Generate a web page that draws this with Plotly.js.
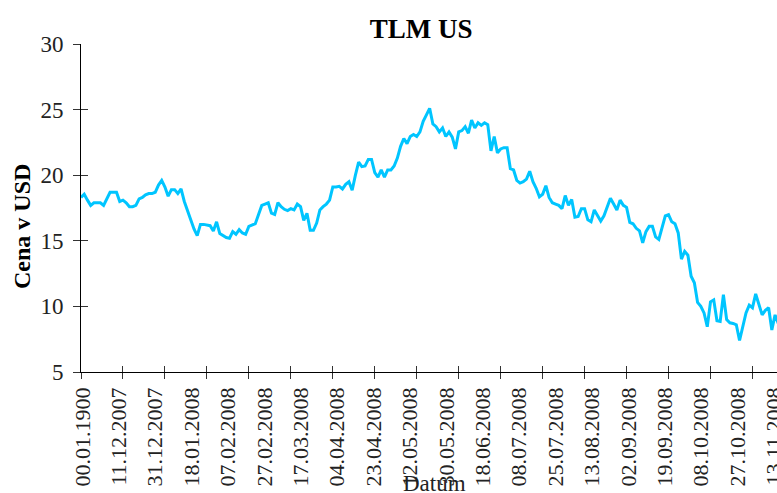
<!DOCTYPE html>
<html>
<head>
<meta charset="utf-8">
<script src="https://cdn.plot.ly/plotly-3.0.1.min.js"></script>
<style>
  html, body { margin: 0; padding: 0; background: #fff; }
  #chart { width: 777px; height: 493px; }
</style>
</head>
<body>
<div id="chart"></div>
<script>
// closing prices of TLM US, one value per trading day
var price = [
    18.3, 18.55, 18.1, 17.7, 17.9, 17.9, 17.9, 17.7, 18.2, 18.7,
    18.7, 18.7, 18.0, 18.1, 17.9, 17.6, 17.6, 17.7, 18.2, 18.3,
    18.5, 18.6, 18.6, 18.7, 19.25, 19.6, 19.1, 18.4, 18.9, 18.9,
    18.6, 18.95, 18.0, 17.3, 16.6, 15.9, 15.4, 16.25, 16.25, 16.2,
    16.15, 15.75, 16.45, 15.55, 15.4, 15.25, 15.2, 15.7, 15.5, 15.85,
    15.6, 15.5, 16.1, 16.2, 16.3, 17.0, 17.7, 17.8, 17.9, 17.1,
    17.0, 17.9, 17.6, 17.4, 17.3, 17.45, 17.35, 17.8, 17.6, 16.55,
    17.1, 15.8, 15.8, 16.35, 17.35, 17.6, 17.8, 18.1, 19.1, 19.1,
    19.15, 18.95, 19.3, 19.5, 18.85, 20.0, 21.0, 20.65, 20.7, 21.2,
    21.2, 20.2, 19.85, 20.4, 19.85, 20.4, 20.4, 20.7, 21.3, 22.2,
    22.8, 22.4, 22.95, 23.1, 22.95, 23.3, 24.1, 24.6, 25.1, 23.9,
    23.7, 23.3, 23.6, 22.95, 23.3, 22.9, 22.0, 23.3, 23.4, 23.7,
    23.2, 24.2, 23.6, 24.0, 23.8, 24.0, 23.85, 21.85, 22.95, 21.7,
    22.0, 22.1, 22.1, 20.5, 20.4, 19.6, 19.4, 19.5, 19.7, 20.3,
    19.5, 19.0, 18.35, 18.55, 19.2, 18.3, 17.9, 17.8, 17.7, 17.45,
    18.45, 17.7, 18.15, 16.8, 16.85, 17.45, 17.45, 16.6, 16.45, 17.35,
    16.9, 16.5, 16.9, 17.6, 18.25, 17.8, 17.35, 18.1, 17.7, 17.55,
    16.4, 16.3, 15.95, 15.75, 14.85, 15.7, 16.1, 16.1, 15.3, 15.1,
    16.0, 16.9, 17.0, 16.45, 16.3, 15.6, 13.6, 14.2, 13.9, 12.3,
    11.8, 10.3, 10.0, 9.5, 8.45, 10.35, 10.5, 8.9, 8.85, 10.9,
    9.0, 8.75, 8.7, 8.6, 7.4, 8.5, 9.5, 10.1, 9.9, 10.95,
    10.2, 9.35, 9.7, 9.9, 8.2, 9.35, 8.7
];

// date labels under the axis
var dateLabels = [
    '00.01.1900', '11.12.2007', '31.12.2007', '18.01.2008', '07.02.2008',
    '27.02.2008', '17.03.2008', '04.04.2008', '23.04.2008', '12.05.2008',
    '30.05.2008', '18.06.2008', '08.07.2008', '25.07.2008', '13.08.2008',
    '02.09.2008', '19.09.2008', '08.10.2008', '27.10.2008', '13.11.2008'
];

var yTicks = [5, 10, 15, 20, 25, 30];

var day = price.map(function (v, i) { return i; });
var tickStep = 13;
var dayTicks = day.filter(function (i) { return i % tickStep === 0; });
var labelPos = dateLabels.map(function (d, i) { return i; });

var serif = 'Liberation Serif, Times New Roman, serif';

var trace = {
    x: day,
    y: price,
    type: 'scatter',
    mode: 'lines',
    line: { color: '#00C5FF', width: 3 },
    hoverinfo: 'x+y'
};

// empty traces so the overlay axes (cross ticks, date labels) get drawn
var holders = [
    { x: [], y: [], xaxis: 'x2', yaxis: 'y', type: 'scatter', mode: 'lines', hoverinfo: 'skip' },
    { x: [], y: [], xaxis: 'x3', yaxis: 'y', type: 'scatter', mode: 'lines', hoverinfo: 'skip' },
    { x: [], y: [], xaxis: 'x', yaxis: 'y2', type: 'scatter', mode: 'lines', hoverinfo: 'skip' }
];

var xRange = [0, 215.6];
var yRange = [5, 30];

var layout = {
    width: 777,
    height: 493,
    margin: { l: 81, r: 0, t: 44, b: 121 },
    paper_bgcolor: '#fff',
    plot_bgcolor: '#fff',
    showlegend: false,
    title: {
        text: 'TLM US',
        font: { family: serif, size: 27, color: '#000', weight: 'bold' },
        x: 0.542, xanchor: 'center',
        y: 0.943, yanchor: 'middle'
    },
    xaxis: {
        range: xRange,
        showgrid: false, zeroline: false,
        showline: true, linecolor: '#000', linewidth: 1,
        tickmode: 'array', tickvals: dayTicks,
        ticks: 'outside', ticklen: 6, tickcolor: '#333',
        showticklabels: false
    },
    xaxis2: {
        overlaying: 'x', anchor: 'y',
        range: xRange,
        showgrid: false, zeroline: false, showline: false,
        tickmode: 'array', tickvals: dayTicks,
        ticks: 'inside', ticklen: 6, tickcolor: '#333',
        showticklabels: false
    },
    xaxis3: {
        overlaying: 'x', anchor: 'y',
        range: [-0.041, 19.08],
        showgrid: false, zeroline: false, showline: false,
        tickmode: 'array', tickvals: labelPos, ticktext: dateLabels,
        ticks: '', tickangle: -90,
        ticklabelstandoff: 10,
        ticklabeloverflow: 'allow',
        tickfont: { family: serif, size: 22, color: '#222' }
    },
    yaxis: {
        range: yRange,
        showgrid: false, zeroline: false,
        showline: true, linecolor: '#000', linewidth: 1,
        tickmode: 'array', tickvals: yTicks,
        ticks: 'outside', ticklen: 7, tickcolor: '#333',
        ticklabelstandoff: 5,
        tickfont: { family: serif, size: 23, color: '#222' }
    },
    yaxis2: {
        overlaying: 'y', anchor: 'x', side: 'left',
        range: yRange,
        showgrid: false, zeroline: false, showline: false,
        tickmode: 'array', tickvals: yTicks,
        ticks: 'inside', ticklen: 7, tickcolor: '#333',
        showticklabels: false
    },
    annotations: [
        {
            text: 'Cena v USD', textangle: -90,
            xref: 'paper', yref: 'paper',
            x: -0.0848, y: 0.445, xanchor: 'center', yanchor: 'middle',
            showarrow: false,
            font: { family: serif, size: 24, color: '#000', weight: 'bold' }
        },
        {
            text: 'Datum',
            xref: 'paper', yref: 'paper',
            x: 0.5086, y: -0.34, xanchor: 'center', yanchor: 'middle',
            showarrow: false,
            font: { family: serif, size: 23, color: '#222' }
        }
    ]
};

Plotly.newPlot('chart', holders.concat([trace]), layout, { displayModeBar: false, staticPlot: true });
</script>
</body>
</html>
